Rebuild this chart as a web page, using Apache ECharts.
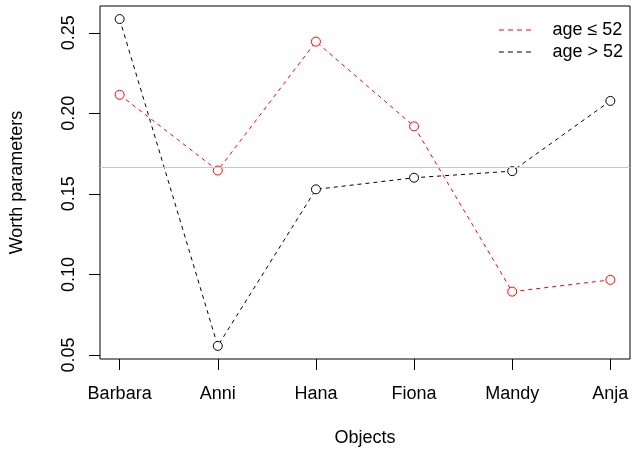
<!DOCTYPE html>
<html><head><meta charset="utf-8">
<script src="https://cdn.jsdelivr.net/npm/echarts@6/dist/echarts.min.js"></script>
<style>html,body{margin:0;padding:0;background:#fff}#c{width:632px;height:452px}</style>
</head><body><div id="c"></div>
<script>
var categories = ['Barbara', 'Anni', 'Hana', 'Fiona', 'Mandy', 'Anja'];
var youngValues = [0.2115, 0.1645, 0.2445, 0.1919, 0.0893, 0.0966];
var oldValues = [0.2585, 0.0556, 0.1528, 0.1600, 0.1641, 0.2077];
var yTicks = [0.05, 0.10, 0.15, 0.20, 0.25];
var seriesNames = ['age \u2264 52', 'age > 52'];
var referenceLevel = 1 / 6;

var all = youngValues.concat(oldValues);
var dmin = Math.min.apply(null, all), dmax = Math.max.apply(null, all);
var pad = 0.04 * (dmax - dmin);
var xTicks = categories.map(function (c, i) { return i + 1; });
function pts(vals) { return vals.map(function (v, i) { return [i + 1, v]; }); }

var font = 'Liberation Sans, Arial, Helvetica, sans-serif';
var dashIcon = 'path://M0,0H5V1H0Z M9,0H14V1H9Z M18,0H23V1H18Z M27,0H32V1H27Z';

var chart = echarts.init(document.getElementById('c'), null, {renderer: 'canvas'});
chart.setOption({
  animation: false,
  grid: {left: 95, right: 2, top: 6, bottom: 89, show: true, borderColor: '#000', borderWidth: 1, backgroundColor: 'transparent'},
  legend: {
    right: 4, top: 16, orient: 'vertical', itemGap: 4,
    itemWidth: 33, itemHeight: 1,
    textStyle: {fontFamily: font, fontSize: 18, color: '#000', padding: [0, 0, 0, 16]},
    data: [{name: seriesNames[0], icon: dashIcon, itemStyle: {color: '#ff0000', borderWidth: 0}},
           {name: seriesNames[1], icon: dashIcon, itemStyle: {color: '#000', borderWidth: 0}}]
  },
  xAxis: {
    type: 'value', min: 0.8, max: 6.2,
    name: 'Objects', nameLocation: 'middle', nameGap: 70,
    nameTextStyle: {fontFamily: font, fontSize: 18, color: '#000'},
    axisLine: {show: false},
    axisTick: {show: true, length: 11, lineStyle: {color: '#000'}, customValues: xTicks},
    axisLabel: {fontFamily: font, fontSize: 18, color: '#000', margin: 26, customValues: xTicks,
      formatter: function (v) { return categories[Math.round(v) - 1] || ''; }},
    splitLine: {show: false}
  },
  yAxis: {
    type: 'value', min: dmin - pad, max: dmax + pad,
    name: 'Worth parameters', nameLocation: 'middle', nameGap: 74,
    nameTextStyle: {fontFamily: font, fontSize: 18, color: '#000'},
    axisLine: {show: false},
    axisTick: {show: true, length: 11, lineStyle: {color: '#000'}, customValues: yTicks},
    axisLabel: {fontFamily: font, fontSize: 18, color: '#000', rotate: 90, margin: 22, customValues: yTicks,
      formatter: function (v) { return v.toFixed(2); }},
    splitLine: {show: false}
  },
  series: [
    {
      name: seriesNames[0], type: 'line', data: pts(youngValues),
      symbol: 'circle', symbolSize: 9, showSymbol: true, showAllSymbol: true,
      itemStyle: {color: '#ffffff', borderColor: '#ff0000', borderWidth: 1},
      lineStyle: {color: '#ff0000', width: 1, type: [4, 4]},
      markLine: {silent: true, symbol: 'none', precision: 8, label: {show: false},
        lineStyle: {color: '#c8c8c8', width: 1, type: 'solid'},
        data: [{yAxis: referenceLevel}]},
      z: 3
    },
    {
      name: seriesNames[1], type: 'line', data: pts(oldValues),
      symbol: 'circle', symbolSize: 9, showSymbol: true, showAllSymbol: true,
      itemStyle: {color: '#ffffff', borderColor: '#000000', borderWidth: 1},
      lineStyle: {color: '#000', width: 1, type: [4, 4]},
      z: 4
    }
  ]
});
</script></body></html>
